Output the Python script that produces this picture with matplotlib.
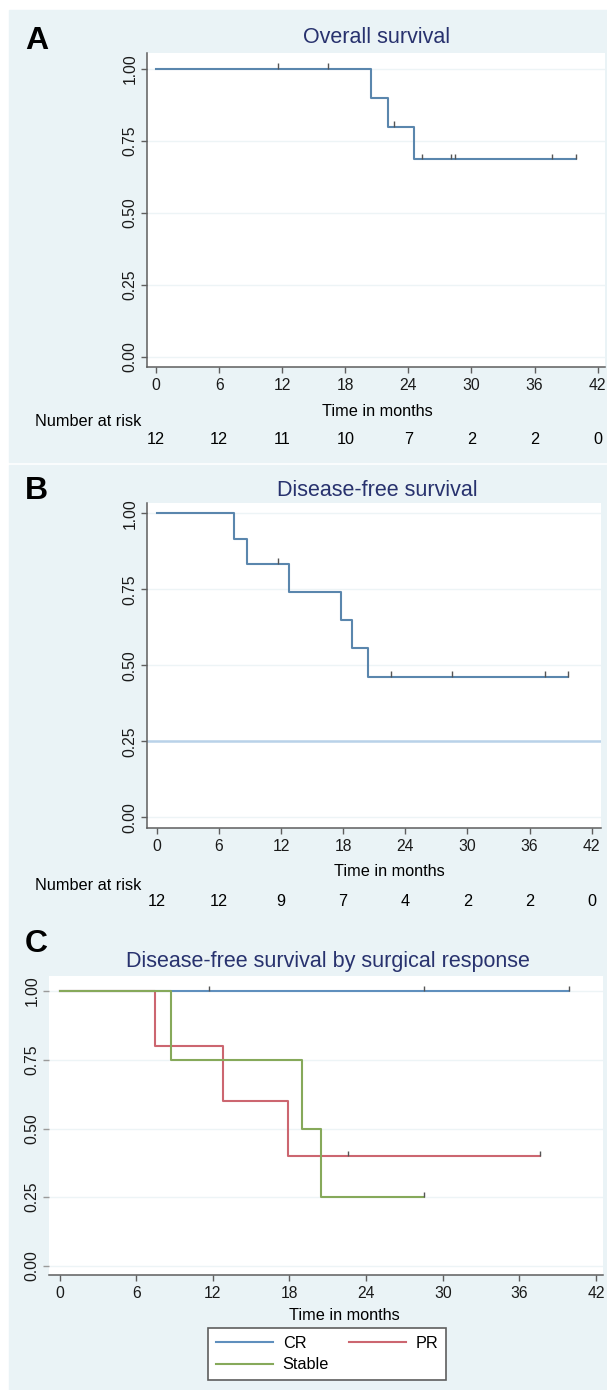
import matplotlib
matplotlib.use("Agg")
import matplotlib.pyplot as plt
import numpy as np
from matplotlib.patches import Rectangle

# ---- data ------------------------------------------------------------------
x_ticks = [0, 6, 12, 18, 24, 30, 36, 42]
y_ticks = [0.0, 0.25, 0.5, 0.75, 1.0]

# A: overall survival
a_times = [0, 20.4, 22.1, 24.5, 39.9]
a_surv = [1.0, 0.9, 0.8, 0.686, 0.686]
a_cens = [11.6, 16.4, 22.6, 25.3, 28.1, 28.4, 37.7, 39.9]
a_risk = [12, 12, 11, 10, 7, 2, 2, 0]

# B: disease-free survival
b_times = [0, 7.5, 8.7, 12.8, 17.8, 18.9, 20.4, 39.7]
b_surv = [1.0, 0.917, 0.833, 0.741, 0.648, 0.556, 0.463, 0.463]
b_cens = [11.7, 22.6, 28.5, 37.5, 39.7]
b_risk = [12, 12, 9, 7, 4, 2, 2, 0]

# C: disease-free survival by surgical response
cr_times = [0, 39.9]
cr_surv = [1.0, 1.0]
cr_cens = [11.7, 28.5, 39.9]
pr_times = [0, 7.5, 12.8, 17.9, 37.6]
pr_surv = [1.0, 0.8, 0.6, 0.4, 0.4]
pr_cens = [22.6, 37.6]
st_times = [0, 8.7, 19.0, 20.5, 28.5]
st_surv = [1.0, 0.75, 0.5, 0.25, 0.25]
st_cens = [28.5]

# ---- style ------------------------------------------------------------------
W, H = 607, 1390
BG = "#eaf3f6"
GRID = "#edf4f6"
NAVY = "#28326e"
AXC = "#5e5e5e"
BLUE = "#5a86ad"
RED = "#cc6670"
GREEN = "#86a95a"
CENS = "#555555"
TICK_FS = 11.3
LABEL_FS = 11.7

plt.rcParams.update({
    "font.family": ["Liberation Sans", "DejaVu Sans"],
    "font.size": 11,
})

fig = plt.figure(figsize=(W / 100, H / 100), dpi=100)
fig.patch.set_facecolor("white")


def fx(px):
    return px / W


def fy(py):
    return 1 - py / H


def add_axes(left, right, top, bottom):
    ax = fig.add_axes([fx(left), fy(bottom), (right - left) / W, (bottom - top) / H])
    ax.set_zorder(2)
    return ax


# panel backgrounds (drawn beneath the axes)
fig.patches.append(Rectangle((fx(9), fy(462)), fx(598), (462 - 10) / H,
                             transform=fig.transFigure, color=BG, zorder=-5))
fig.patches.append(Rectangle((fx(9), fy(1390)), fx(598), (1390 - 465) / H,
                             transform=fig.transFigure, color=BG, zorder=-5))


def km(ax, times, surv, cens, color):
    ax.step(times, surv, where="post", color=color, lw=1.5, zorder=3)
    idx = np.searchsorted(times, cens, side="right") - 1
    cy = np.asarray(surv)[idx]
    ax.vlines(cens, cy, cy + 0.02, color=CENS, lw=1.0, zorder=4)


def style(ax, xlim, ylim, left_spine=True):
    ax.set_xlim(*xlim)
    ax.set_ylim(*ylim)
    ax.set_xticks(x_ticks)
    ax.set_yticks(y_ticks)
    ax.set_yticklabels([f"{v:.2f}" for v in y_ticks], rotation=90, va="center")
    for y in y_ticks:
        ax.axhline(y, color=GRID, lw=1.0, zorder=1)
    for s in ("top", "right"):
        ax.spines[s].set_visible(False)
    ax.spines["bottom"].set_color(AXC)
    ax.spines["bottom"].set_linewidth(1.1)
    ax.spines["left"].set_color(AXC)
    ax.spines["left"].set_linewidth(1.1)
    ax.spines["left"].set_visible(left_spine)
    ax.tick_params(axis="x", length=4, width=1.0, color=AXC, pad=4,
                   labelsize=TICK_FS, labelcolor="#1a1a1a")
    ax.tick_params(axis="y", length=4, width=1.0,
                   color=AXC if left_spine else "#9a9a9a", pad=3,
                   labelsize=TICK_FS, labelcolor="#1a1a1a")


def at_risk(ax, counts, ypx, label_ypx):
    fig.text(fx(35), fy(label_ypx), "Number at risk", fontsize=LABEL_FS,
             ha="left", va="center")
    tr = matplotlib.transforms.blended_transform_factory(ax.transData, fig.transFigure)
    for t, n in zip(x_ticks, counts):
        ax.text(t, fy(ypx), str(n), transform=tr, ha="center", va="center",
                fontsize=LABEL_FS, clip_on=False)


# ---- panel A ----------------------------------------------------------------
axA = add_axes(147, 605, 53, 367)
style(axA, (-0.86, 42.7), (-0.035, 1.056))
km(axA, a_times, a_surv, a_cens, BLUE)
fig.text(fx(25), fy(49), "A", fontsize=23, fontweight="bold", ha="left", va="baseline")
fig.text(fx(377), fy(43), "Overall survival", fontsize=15.5, color=NAVY,
         ha="center", va="baseline")
fig.text(fx(377), fy(411), "Time in months", fontsize=LABEL_FS, ha="center", va="center")
at_risk(axA, a_risk, 439, 422)

# ---- panel B ----------------------------------------------------------------
axB = add_axes(147, 601, 503, 828)
style(axB, (-0.94, 42.9), (-0.035, 1.034))
axB.axhline(0.25, color="#b9d2e9", lw=1.8, zorder=2)
km(axB, b_times, b_surv, b_cens, BLUE)
fig.text(fx(25), fy(499), "B", fontsize=23, fontweight="bold", ha="left", va="baseline")
fig.text(fx(377), fy(496), "Disease-free survival", fontsize=15.5, color=NAVY,
         ha="center", va="baseline")
fig.text(fx(389), fy(872), "Time in months", fontsize=LABEL_FS, ha="center", va="center")
at_risk(axB, b_risk, 902, 885)

# ---- panel C ----------------------------------------------------------------
axC = add_axes(49, 603, 976, 1275)
style(axC, (-0.83, 42.55), (-0.033, 1.055), left_spine=False)
km(axC, cr_times, cr_surv, cr_cens, "#5f8fbd")
km(axC, pr_times, pr_surv, pr_cens, RED)
km(axC, st_times, st_surv, st_cens, GREEN)
fig.text(fx(25), fy(952), "C", fontsize=23, fontweight="bold", ha="left", va="baseline")
fig.text(fx(328), fy(967), "Disease-free survival by surgical response", fontsize=15.5,
         color=NAVY, ha="center", va="baseline")
fig.text(fx(344), fy(1316), "Time in months", fontsize=LABEL_FS, ha="center", va="center")

handles = [
    plt.Line2D([], [], color="#5f8fbd", lw=1.5),
    plt.Line2D([], [], color=GREEN, lw=1.5),
    plt.Line2D([], [], color=RED, lw=1.5),
]
leg = fig.legend(handles, ["CR", "Stable", "PR"], ncol=2,
                 loc="upper left", bbox_to_anchor=(fx(208), fy(1328)),
                 bbox_transform=fig.transFigure, fontsize=LABEL_FS, frameon=True,
                 fancybox=False, framealpha=1.0, handlelength=3.5,
                 handletextpad=0.6, columnspacing=1.2, labelspacing=0.38,
                 borderpad=0.5, borderaxespad=0)
leg.get_frame().set_edgecolor(AXC)
leg.get_frame().set_linewidth(1.2)
leg.get_frame().set_facecolor("white")

fig.savefig("out.png", dpi=100, facecolor=fig.get_facecolor())
